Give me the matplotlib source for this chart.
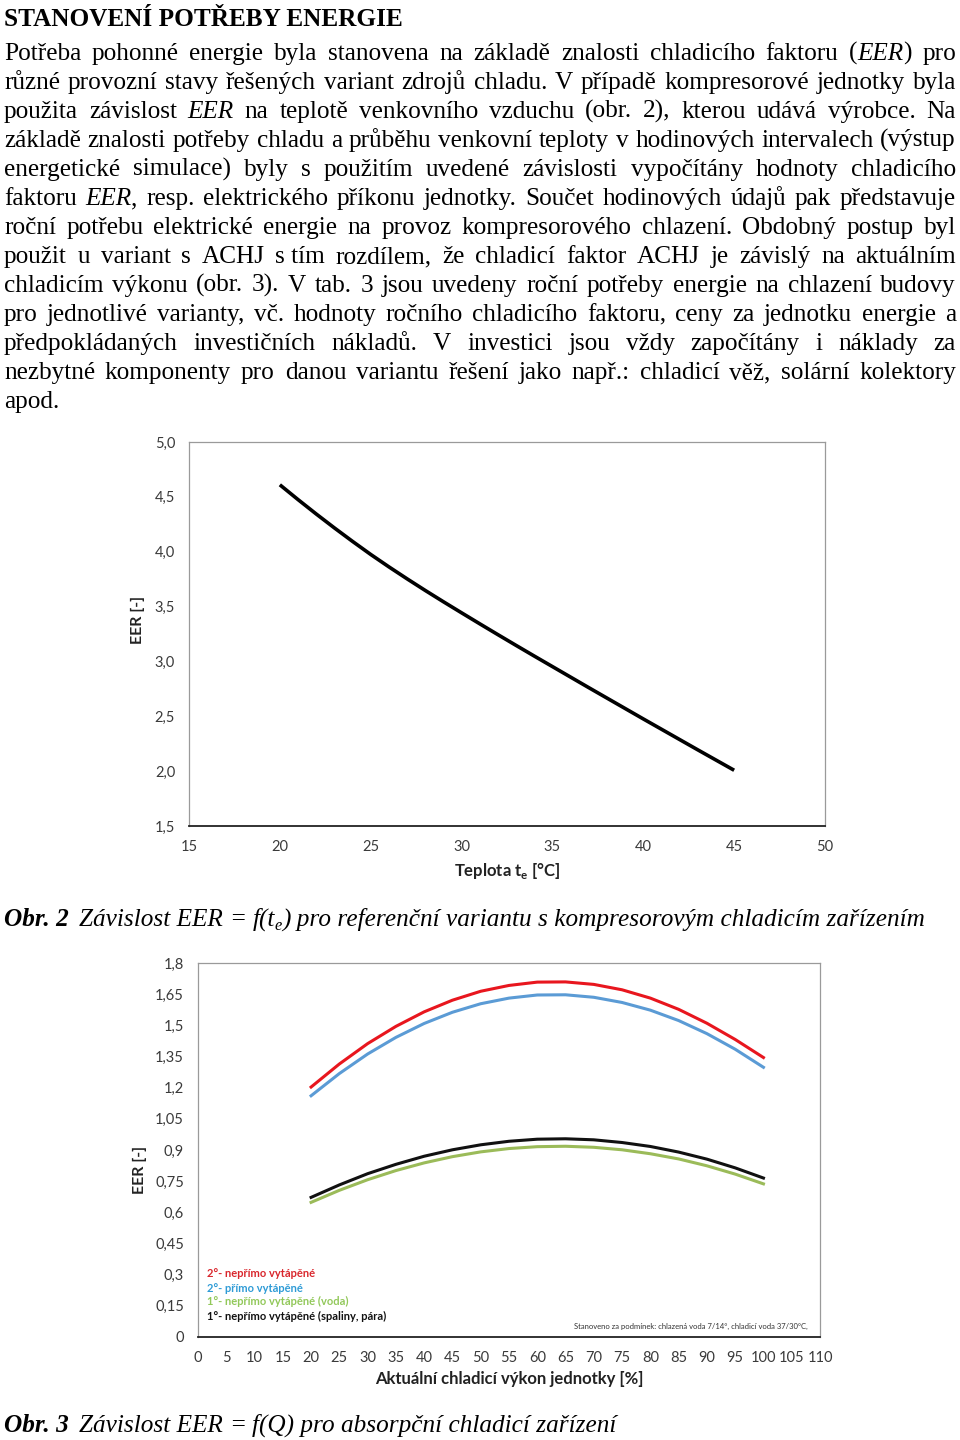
import matplotlib
matplotlib.use('Agg')
import numpy as np
from matplotlib import pyplot as plt

# --- data -----------------------------------------------------------------
# obr. 2: EER kompresorove jednotky vs. venkovni teplota (odecteno po 1 °C)
t_out = list(range(20, 46))
eer_comp = [4.610, 4.475, 4.344, 4.217, 4.094, 3.975, 3.862, 3.753, 3.647, 3.544,
            3.443, 3.343, 3.244, 3.146, 3.049, 2.953, 2.857, 2.761, 2.666, 2.571,
            2.476, 2.382, 2.288, 2.194, 2.101, 2.008]

# obr. 3: EER absorpcni jednotky vs. aktualni vykon [%]
load = [20, 25, 30, 35, 40, 45, 50, 55, 60, 65, 70, 75, 80, 85, 90, 95, 100]
eer_2_neprimo = [1.203, 1.314, 1.412, 1.495, 1.565, 1.621, 1.664, 1.692, 1.708, 1.709,
                 1.697, 1.671, 1.631, 1.577, 1.510, 1.432, 1.345]
eer_2_primo = [1.161, 1.268, 1.362, 1.442, 1.509, 1.563, 1.604, 1.631, 1.646, 1.647,
               1.635, 1.610, 1.573, 1.523, 1.460, 1.385, 1.298]
eer_1_voda = [0.648, 0.706, 0.757, 0.801, 0.838, 0.868, 0.891, 0.907, 0.916, 0.918,
              0.913, 0.901, 0.882, 0.857, 0.824, 0.784, 0.737]
eer_1_spaliny = [0.672, 0.732, 0.786, 0.831, 0.870, 0.901, 0.925, 0.942, 0.952, 0.954,
                 0.949, 0.936, 0.917, 0.890, 0.856, 0.814, 0.765]

legend_labels = ['2°- nepřímo vytápěné', '2°- přímo vytápěné',
                 '1°- nepřímo vytápěné (voda)', '1°- nepřímo vytápěné (spaliny, pára)']

title = 'STANOVENÍ POTŘEBY ENERGIE'
body = [
    'Potřeba pohonné energie byla stanovena na základě znalosti chladicího faktoru (_EER_) pro',
    'různé provozní stavy řešených variant zdrojů chladu. V případě kompresorové jednotky byla',
    'použita závislost _EER_ na teplotě venkovního vzduchu (obr. 2), kterou udává výrobce. Na',
    'základě znalosti potřeby chladu a průběhu venkovní teploty v hodinových intervalech (výstup',
    'energetické simulace) byly s použitím uvedené závislosti vypočítány hodnoty chladicího',
    'faktoru _EER_, resp. elektrického příkonu jednotky. Součet hodinových údajů pak představuje',
    'roční potřebu elektrické energie na provoz kompresorového chlazení. Obdobný postup byl',
    'použit u variant s ACHJ s\u00a0tím rozdílem, že chladicí faktor ACHJ je závislý na aktuálním',
    'chladicím výkonu (obr. 3). V tab. 3 jsou uvedeny roční potřeby energie na chlazení budovy',
    'pro jednotlivé varianty, vč. hodnoty ročního chladicího faktoru, ceny za jednotku energie a',
    'předpokládaných investičních nákladů. V investici jsou vždy započítány i náklady za',
    'nezbytné komponenty pro danou variantu řešení jako např.: chladicí věž, solární kolektory',
    'apod.',
]

W, H = 960, 1440
SERIF = 'Liberation Serif'
SANS = 'Lato'
BODY = 18.2

plt.rcParams['mathtext.fontset'] = 'custom'
plt.rcParams['mathtext.bf'] = 'Lato:bold'
plt.rcParams['mathtext.rm'] = 'Lato'

fig = plt.figure(figsize=(9.6, 14.4), dpi=100)
r = fig.canvas.get_renderer()


def put(x, y, s, size=BODY, **kw):
    # x, y v pixelech od leveho horniho rohu, y = uctaří (baseline)
    return fig.text(x / W, 1 - y / H, s, family=SERIF, fontsize=size,
                    va='baseline', ha='left', **kw)


def width(t):
    return t.get_window_extent(r).width


def line(s, y, x0=4, x1=956, justify=True):
    items = []
    for w in s.split(' '):
        parts = w.replace('\u00a0', ' ').split('_')
        ts = [put(0, y, p, style='italic' if k % 2 else 'normal')
              for k, p in enumerate(parts) if p]
        items.append(ts)
    ww = [sum(width(t) for t in ts) for ts in items]
    gap = BODY * 100 / 72 * 0.25
    if justify and len(items) > 1:
        gap = (x1 - x0 - sum(ww)) / (len(items) - 1)
    x = x0
    for ts, w in zip(items, ww):
        for t in ts:
            t.set_x(x / W)
            x += width(t)
        x += gap


def caption(pieces, y, x0=4):
    # pieces: (text, weight, gap_before, dy, size)
    x = x0
    for txt, weight, g, dy, sz in pieces:
        x += g
        t = put(x, y + dy, txt, size=sz, style='italic', weight=weight)
        x += width(t)


put(4, 26, title, weight='bold')
for i, s in enumerate(body):
    line(s, 60 + 29 * i, justify=(i < len(body) - 1))

sp = BODY * 100 / 72 * 0.25
caption([('Obr. 2', 'bold', 0, 0, BODY), ('Závislost EER', 'normal', sp + 4, 0, BODY),
         ('=', 'normal', sp, 0, BODY), ('f(t', 'normal', sp, 0, BODY),
         ('e', 'normal', 0, 4, BODY * 0.65),
         (') pro referenční variantu s kompresorovým chladicím zařízením', 'normal', 0, 0, BODY)], 926)
caption([('Obr. 3', 'bold', 0, 0, BODY), ('Závislost EER', 'normal', sp + 4, 0, BODY),
         ('=', 'normal', sp, 0, BODY),
         ('f(Q) pro absorpční chladicí zařízení', 'normal', sp, 0, BODY)], 1432)

tick_col = '#3a3a3a'


def frame(ax):
    for k in ['left', 'top', 'right']:
        ax.spines[k].set_color('#9a9a9a')
        ax.spines[k].set_linewidth(0.9)
    ax.spines['bottom'].set_color('#222222')
    ax.spines['bottom'].set_linewidth(1.3)
    ax.tick_params(length=0, labelsize=10.5, colors=tick_col, pad=10)
    for lab in ax.get_xticklabels() + ax.get_yticklabels():
        lab.set_family(SANS)


# --- obr. 2 ---------------------------------------------------------------
ax1 = fig.add_axes([189 / W, 1 - 826 / H, 636 / W, 384 / H])
ax1.plot(t_out, eer_comp, color='black', lw=2.6, solid_capstyle='butt')
ax1.set_xlim(15, 50)
ax1.set_ylim(1.5, 5.0)
ax1.set_xticks(range(15, 51, 5))
yt = np.arange(1.5, 5.01, 0.5)
ax1.set_yticks(yt)
ax1.set_yticklabels([f'{v:.1f}'.replace('.', ',') for v in yt])
frame(ax1)
ax1.set_ylabel('EER [-]', family=SANS, weight='bold', fontsize=11.5, color='#222222')
ax1.yaxis.set_label_coords(-0.069, 0.536)
ax1.set_xlabel(r'Teplota t$_\mathbf{e}$ [°C]', family=SANS, weight='bold', fontsize=12, color='#222222')
ax1.xaxis.set_label_coords(0.5, -0.092)

# --- obr. 3 ---------------------------------------------------------------
ax2 = fig.add_axes([198 / W, 1 - 1337 / H, 622 / W, 374 / H])
ax2.plot(load, eer_2_neprimo, color='#e8161e', lw=2.2)
ax2.plot(load, eer_2_primo, color='#5b9bd5', lw=2.2)
ax2.plot(load, eer_1_voda, color='#9bbb59', lw=2.2)
ax2.plot(load, eer_1_spaliny, color='#111111', lw=2.2)
ax2.set_xlim(0, 110)
ax2.set_ylim(0, 1.8)
ax2.set_xticks(range(0, 111, 5))
yt2 = np.arange(0, 1.801, 0.15)
ax2.set_yticks(yt2)
ax2.set_yticklabels([('%g' % round(v, 2)).replace('.', ',') for v in yt2])
frame(ax2)
ax2.set_ylabel('EER [-]', family=SANS, weight='bold', fontsize=11.5, color='#222222')
ax2.yaxis.set_label_coords(-0.082, 0.447)
ax2.set_xlabel('Aktuální chladicí výkon jednotky [%]', family=SANS, weight='bold', fontsize=12, color='#222222')
ax2.xaxis.set_label_coords(0.5, -0.092)

leg_cols = ['#d9262c', '#2e9bd6', '#92c85a', '#111111']
leg_y = [0.171, 0.131, 0.094, 0.056]
for lab, c, yy in zip(legend_labels, leg_cols, leg_y):
    ax2.text(0.0145, yy, lab, transform=ax2.transAxes, color=c, family=SANS,
             weight='bold', fontsize=8, va='center', ha='left')
ax2.text(0.981, 0.029, 'Stanoveno za podmínek: chlazená voda 7/14°, chladicí voda 37/30°C,',
         transform=ax2.transAxes, family=SANS, fontsize=5.5, color='#333333', va='center', ha='right')

plt.savefig('out.png', dpi=100)
